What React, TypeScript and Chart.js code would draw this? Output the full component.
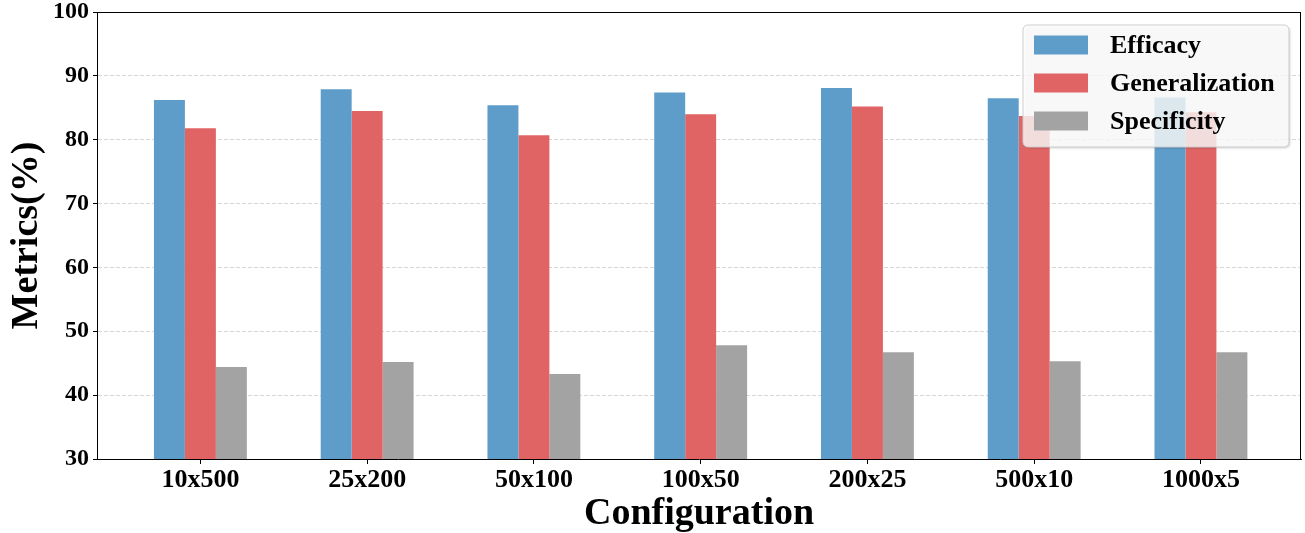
import React, { useEffect, useRef } from "react";
import { Chart, registerables } from "chart.js";

Chart.register(...registerables);

const categories = ["10x500", "25x200", "50x100", "100x50", "200x25", "500x10", "1000x5"];
const efficacy = [86.2, 87.9, 85.4, 87.4, 88.1, 86.5, 86.6];
const generalization = [81.8, 84.5, 80.7, 84.0, 85.2, 83.7, 84.3];
const specificity = [44.4, 45.2, 43.3, 47.8, 46.7, 45.3, 46.7];
const seriesNames = ["Efficacy", "Generalization", "Specificity"];
const seriesColors = ["#5e9dc9", "#e06464", "#a3a3a3"];
const yTicks = [30, 40, 50, 60, 70, 80, 90, 100];

const FONT = "'Liberation Serif', 'Times New Roman', serif";

const framePlugin = {
  id: "frameAndLegend",
  afterDraw(chart: any) {
    const { ctx, chartArea } = chart;
    const { left, right, top, bottom } = chartArea;
    ctx.save();
    ctx.strokeStyle = "#000";
    ctx.lineWidth = 1;
    ctx.beginPath();
    ctx.moveTo(left, top + 0.5);
    ctx.lineTo(right, top + 0.5);
    ctx.moveTo(right - 0.5, top);
    ctx.lineTo(right - 0.5, bottom);
    ctx.stroke();

    const bx = right - 278;
    const by = top + 13;
    const bw = 266;
    const bh = 122;
    const r = 5;
    ctx.beginPath();
    ctx.moveTo(bx + r, by);
    ctx.lineTo(bx + bw - r, by);
    ctx.arcTo(bx + bw, by, bx + bw, by + r, r);
    ctx.lineTo(bx + bw, by + bh - r);
    ctx.arcTo(bx + bw, by + bh, bx + bw - r, by + bh, r);
    ctx.lineTo(bx + r, by + bh);
    ctx.arcTo(bx, by + bh, bx, by + bh - r, r);
    ctx.lineTo(bx, by + r);
    ctx.arcTo(bx, by, bx + r, by, r);
    ctx.closePath();
    ctx.shadowColor = "rgba(0,0,0,0.18)";
    ctx.shadowOffsetX = 1.5;
    ctx.shadowOffsetY = 1.5;
    ctx.shadowBlur = 2;
    ctx.fillStyle = "rgba(255,255,255,0.8)";
    ctx.fill();
    ctx.shadowColor = "transparent";
    ctx.strokeStyle = "#cccccc";
    ctx.lineWidth = 1;
    ctx.stroke();

    ctx.font = `bold 26px ${FONT}`;
    ctx.textBaseline = "middle";
    ctx.textAlign = "left";
    chart.data.datasets.forEach((ds: any, i: number) => {
      const cy = by + 20 + i * 38;
      ctx.fillStyle = ds.backgroundColor;
      ctx.fillRect(bx + 11, cy - 9.5, 54, 19);
      ctx.fillStyle = "#000";
      ctx.fillText(ds.label, bx + 87, cy + 1);
    });
    ctx.restore();
  },
};

export default function App() {
  const canvasRef = useRef<HTMLCanvasElement | null>(null);

  useEffect(() => {
    document.body.style.margin = "0";
    document.body.style.overflow = "hidden";
    const canvas = canvasRef.current;
    if (!canvas) return;
    const values = [efficacy, generalization, specificity];
    const chart = new Chart(canvas, {
      type: "bar",
      data: {
        datasets: values.map((arr, si) => ({
          label: seriesNames[si],
          data: arr.map((v, i) => ({ x: i, y: v })),
          backgroundColor: seriesColors[si],
          borderWidth: 0,
          categoryPercentage: 0.557,
          barPercentage: 1,
        })),
      },
      options: {
        animation: false,
        responsive: false,
        devicePixelRatio: 1,
        layout: { padding: { top: 12, right: 4, left: 0, bottom: 0 } },
        plugins: {
          legend: { display: false },
          tooltip: { enabled: false },
        },
        scales: {
          x: {
            type: "linear",
            min: -0.62,
            max: 6.6,
            offset: false,
            z: 1,
            afterFit: (scale: any) => {
              scale.height = 74;
              scale.paddingLeft = 0;
              scale.paddingRight = 0;
            },
            afterBuildTicks: (scale: any) => {
              scale.ticks = categories.map((_, i) => ({ value: i }));
            },
            ticks: {
              autoSkip: false,
              maxRotation: 0,
              padding: 1,
              color: "#000",
              font: { family: FONT, size: 26, weight: "bold" },
              callback: (v: any) => categories[v] ?? "",
            },
            grid: {
              offset: false,
              drawOnChartArea: false,
              drawTicks: true,
              tickLength: 5,
              tickColor: "#000",
              tickWidth: 1,
            },
            border: { display: true, color: "#000", width: 1 },
            title: {
              display: true,
              text: "Configuration",
              color: "#000",
              font: { family: FONT, size: 38, weight: "bold", lineHeight: 1 },
              padding: { top: 0, bottom: 0 },
            },
          },
          y: {
            min: 30,
            max: 100,
            z: 1,
            afterFit: (scale: any) => {
              scale.width = 97;
              scale.paddingTop = 0;
              scale.paddingBottom = 0;
            },
            afterBuildTicks: (scale: any) => {
              scale.ticks = yTicks.map((v) => ({ value: v }));
            },
            ticks: {
              padding: 4,
              color: "#000",
              font: { family: FONT, size: 24, weight: "bold" },
            },
            grid: {
              color: (c: any) =>
                c.tick && (c.tick.value === 30 || c.tick.value === 100)
                  ? "rgba(0,0,0,0)"
                  : "rgba(176,176,176,0.5)",
              lineWidth: 1,
              drawTicks: true,
              tickLength: 4,
              tickColor: "#000",
              tickWidth: 1,
              tickBorderDash: [],
            },
            border: { display: true, color: "#000", width: 1, dash: [4, 2] },
            title: {
              display: true,
              text: "Metrics(%)",
              color: "#000",
              font: { family: FONT, size: 38, weight: "bold", lineHeight: 1 },
              padding: { top: 8, bottom: 0 },
            },
          },
        },
      },
      plugins: [framePlugin],
    } as any);
    return () => chart.destroy();
  }, []);

  return (
    <div style={{ position: "absolute", left: 0, top: 0, width: 1305, height: 533, background: "#fff" }}>
      <canvas ref={canvasRef} width={1305} height={533} />
    </div>
  );
}
